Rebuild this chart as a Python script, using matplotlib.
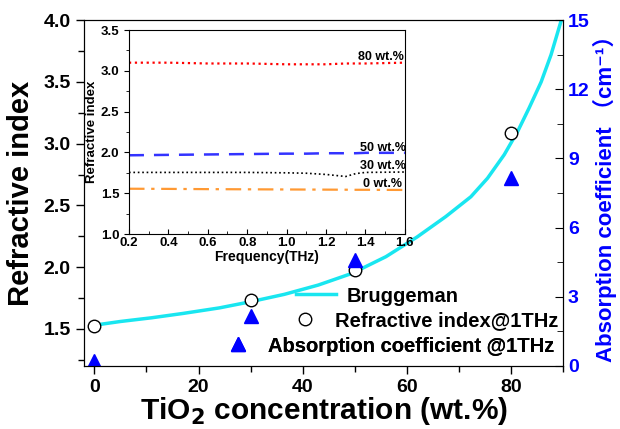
import matplotlib
matplotlib.use("Agg")
import matplotlib.pyplot as plt
from matplotlib.ticker import MultipleLocator
from matplotlib.lines import Line2D

plt.rcParams['font.family'] = ['Liberation Sans', 'Noto Sans CJK SC', 'DejaVu Sans']
plt.rcParams['font.weight'] = 'bold'
plt.rcParams['mathtext.default'] = 'bf'

# measured points (wt.% TiO2)
conc = [0, 30, 50, 80]
n_1thz = [1.52, 1.73, 1.98, 3.09]
alpha_1thz = [0.2, 2.15, 4.6, 8.15]

# Bruggeman curve
brug_x = [0, 5, 11, 17, 24, 30, 36.5, 43, 49.5, 56, 62, 67.5, 72.3, 75.5,
          78.7, 81.3, 83.5, 85.8, 87.7, 89.6, 90.2]
brug_n = [1.53, 1.56, 1.59, 1.625, 1.67, 1.72, 1.78, 1.855, 1.95, 2.085, 2.245, 2.41, 2.57, 2.72,
          2.91, 3.10, 3.29, 3.50, 3.72, 3.99, 4.04]

# inset: refractive index vs frequency
freq = [0.2, 0.4, 0.6, 0.8, 1.0, 1.1, 1.2, 1.3, 1.35, 1.4, 1.6]
n80 = [3.10, 3.10, 3.09, 3.09, 3.08, 3.08, 3.08, 3.09, 3.09, 3.09, 3.10]
n50 = [1.965, 1.97, 1.975, 1.98, 1.985, 1.985, 1.99, 1.99, 1.99, 1.995, 1.995]
n30 = [1.755, 1.755, 1.755, 1.755, 1.75, 1.745, 1.73, 1.705, 1.74, 1.755, 1.76]
n0 = [1.555, 1.553, 1.55, 1.548, 1.546, 1.545, 1.544, 1.543, 1.542, 1.542, 1.54]
inset_labels = ['80 wt.%', '50 wt.%', '30 wt.%', '0 wt.%']
label_pos = [(1.36, 3.17), (1.37, 2.05), (1.37, 1.83), (1.39, 1.61)]

fig = plt.figure(figsize=(6.2, 4.29), dpi=100)
ax = fig.add_axes([0.1355, 0.147, 0.7726, 0.806])
ax2 = ax.twinx()

cyan = '#19e6f0'
blue = '#0000ff'

ax.plot(brug_x, brug_n, color=cyan, lw=2.5, zorder=2)
ax.plot(conc, n_1thz, 'o', ms=9, mfc='white', mec='black', mew=1.0, zorder=3)
ax2.plot(conc, alpha_1thz, '^', ms=10, color=blue, clip_on=True)

ax.set_xlim(-2, 90)
ax.set_ylim(1.2, 4.0)
ax2.set_ylim(0, 15)

ax.xaxis.set_major_locator(MultipleLocator(20))
ax.xaxis.set_minor_locator(MultipleLocator(10))
ax.yaxis.set_major_locator(MultipleLocator(0.5))
ax.yaxis.set_minor_locator(MultipleLocator(0.25))
ax2.yaxis.set_major_locator(MultipleLocator(3))
ax2.yaxis.set_minor_locator(MultipleLocator(1.5))

ax.tick_params(which='both', direction='out', labelsize=14, top=False, right=False)
ax.tick_params(which='major', length=6, width=1)
ax.tick_params(which='minor', length=4, width=1)
ax2.tick_params(which='both', direction='in', labelsize=14, colors='black', labelcolor=blue)
ax2.tick_params(which='major', length=6)
ax2.tick_params(which='minor', length=4)
for a in (ax, ax2):
    for lab in a.get_xticklabels() + a.get_yticklabels():
        lab.set_fontweight('bold')

ax.set_xlabel('TiO$_2$ concentration (wt.%)', fontsize=21.5, fontweight='bold', labelpad=-1)
ax.set_ylabel('Refractive index', fontsize=21, fontweight='bold', labelpad=6)
ax2.set_ylabel('Absorption coefficient （cm⁻¹）', fontsize=16, fontweight='bold',
               color=blue, labelpad=2)

# legend entries, each placed on its own like the original
leg_font = {'size': 14.5, 'weight': 'bold'}
h1 = Line2D([], [], color=cyan, lw=2.5)
h2 = Line2D([], [], ls='none', marker='o', ms=9, mfc='white', mec='black')
h3 = Line2D([], [], ls='none', marker='^', ms=10, color=blue)
for h, txt, x0, y0 in [(h1, 'Bruggeman', 296, 296),
                       (h2, 'Refractive index@1THz', 285, 321),
                       (h3, 'Absorption coefficient @1THz', 218, 346)]:
    lg = ax2.legend([h], [txt], loc='center left', prop=leg_font, frameon=False,
                    bbox_to_anchor=(x0 / 620, 1 - y0 / 429), bbox_transform=fig.transFigure,
                    borderpad=0, borderaxespad=0, handlelength=2.0, handletextpad=0.5)
    ax2.add_artist(lg)

# inset
ins = fig.add_axes([0.208, 0.4545, 0.445, 0.4755])
ins.plot(freq, n80, ls=':', color='#ff0000', lw=1.6)
ins.plot(freq, n50, ls=(0, (6, 4)), color='#3333ff', lw=1.8)
ins.plot(freq, n30, ls=':', color='black', lw=1.2)
ins.plot(freq, n0, ls=(0, (7, 3, 1.5, 3)), color='#ff9933', lw=1.6)
for txt, (fx, fy) in zip(inset_labels, label_pos):
    ins.text(fx, fy, txt, fontsize=9, fontweight='bold', va='center', ha='left')
ins.set_xlim(0.2, 1.6)
ins.set_ylim(1.0, 3.5)
ins.xaxis.set_major_locator(MultipleLocator(0.2))
ins.xaxis.set_minor_locator(MultipleLocator(0.1))
ins.yaxis.set_major_locator(MultipleLocator(0.5))
ins.yaxis.set_minor_locator(MultipleLocator(0.25))
ins.tick_params(axis='y', which='both', direction='out', left=True, labelsize=9.5)
ins.tick_params(axis='x', which='both', direction='in', bottom=True, labelsize=9.5, pad=2)
ins.tick_params(which='major', length=3.5)
ins.tick_params(which='minor', length=2)
for lab in ins.get_xticklabels() + ins.get_yticklabels():
    lab.set_fontweight('bold')
ins.set_xlabel('Frequency(THz)', fontsize=10, fontweight='bold', labelpad=1)
ins.set_ylabel('Refractive index', fontsize=9.5, fontweight='bold', labelpad=2)

fig.savefig('out.png', dpi=100)
